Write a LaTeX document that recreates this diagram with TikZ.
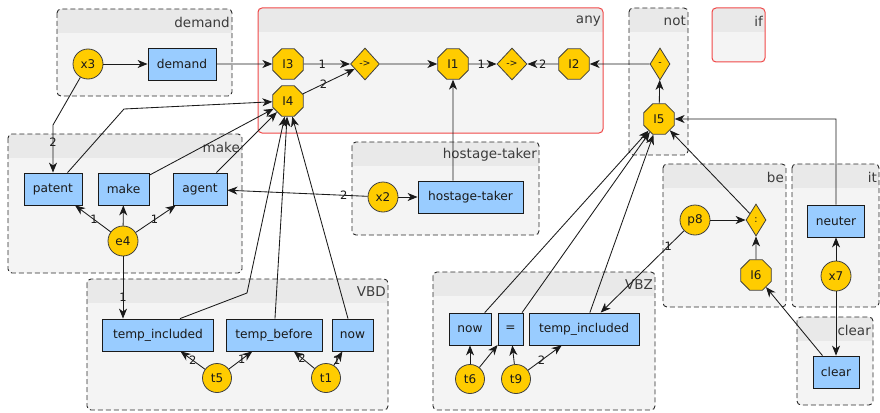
\documentclass[tikz,border=0pt]{standalone}
\usepackage{fontspec}
\setmainfont{DejaVu Sans}
\usetikzlibrary{shapes.geometric,arrows.meta,calc}
\definecolor{gold}{HTML}{FFCC00}
\definecolor{boxblue}{HTML}{99CCFF}
\definecolor{grpbg}{HTML}{F4F4F4}
\definecolor{grphead}{HTML}{E9E9E9}
\definecolor{redb}{HTML}{F04848}
\definecolor{ink}{HTML}{1A1A1A}
\definecolor{dashc}{HTML}{2A2A2A}

\newcommand\mygroup[6]{%
  \fill[grpbg,rounded corners=4pt] (#1,#2) rectangle (#3,#4);
  \begin{scope}
    \clip[rounded corners=4pt] (#1,#2) rectangle (#3,#4);
    \fill[grphead] (#1,#2) rectangle (#3,#2+24);
  \end{scope}
  \draw[#6,rounded corners=4pt] (#1,#2) rectangle (#3,#4);
  \node[grptitle,anchor=east] (g-#5) at (#3-2,#2+13) {#5};
}

\begin{document}
\begin{tikzpicture}[x=1pt,y=-1pt,
  grptitle/.style={font=\fontsize{13.5}{15}\selectfont,text=ink!85,inner sep=0pt},
  dgrp/.style={draw=dashc,line width=0.9pt,dash pattern=on 5pt off 3pt},
  rgrp/.style={draw=redb,line width=1pt},
  blk/.style={rectangle,draw=ink,fill=boxblue,minimum height=32pt,inner sep=0pt,
    font=\fontsize{12.2}{14}\selectfont,text=ink,line width=0.8pt},
  var/.style={circle,draw=black!75,fill=gold,minimum size=30pt,inner sep=0pt,
    font=\fontsize{12}{14}\selectfont,text=ink,line width=0.8pt},
  oct/.style={regular polygon,regular polygon sides=8,draw=black!75,fill=gold,
    minimum size=33pt,inner sep=0pt,font=\fontsize{12}{14}\selectfont,text=ink,line width=0.8pt},
  op/.style={diamond,draw=black!75,fill=gold,inner sep=0pt,minimum height=32pt,
    font=\fontsize{9.5}{10}\selectfont,text=ink,line width=0.8pt},
  edge/.style={draw=ink,line width=0.85pt,-{Stealth[length=10pt,width=8pt,inset=3pt]}},
  lbl/.style={font=\fontsize{11.5}{12}\selectfont,text=ink,inner sep=0pt}
]
\useasboundingbox (0,0) rectangle (880,412);

% groups
\mygroup{57}{9}{232}{96}{demand}{dgrp}
\mygroup{258}{8}{603}{133}{any}{rgrp}
\mygroup{629}{8}{688}{155}{not}{dgrp}
\mygroup{712}{8}{765}{62}{if}{rgrp}
\mygroup{8}{134}{242}{273}{make}{dgrp}
\mygroup{352}{142}{539}{235}{hostage-taker}{dgrp}
\mygroup{663}{164}{786}{307}{be}{dgrp}
\mygroup{792}{164}{879}{307}{it}{dgrp}
\mygroup{797}{317}{873}{405}{clear}{dgrp}
\mygroup{87}{279}{388}{410}{VBD}{dgrp}
\mygroup{433}{272}{655}{410}{VBZ}{dgrp}

% nodes
\node[var] (x3) at (88,64) {x3};
\node[blk,minimum width=68pt] (demand) at (182,64) {demand};
\node[oct] (I3) at (288,64) {I3};
\node[oct] (I4) at (288,101) {I4};
\node[op,minimum width=29pt] (op1) at (365,64) {->};
\node[oct] (I1) at (453,64) {I1};
\node[op,minimum width=30pt] (op2) at (512,64) {->};
\node[oct] (I2) at (574,64) {I2};
\node[op,minimum width=20pt] (opn) at (660,64) {-};
\node[oct] (I5) at (659,119) {I5};

\node[blk,minimum width=58pt] (patent) at (53,189) {patent};
\node[blk,minimum width=51pt] (make) at (123.5,189) {make};
\node[blk,minimum width=54pt] (agent) at (200,189) {agent};
\node[var] (e4) at (123,241) {e4};

\node[var] (x2) at (383,197) {x2};
\node[blk,minimum width=105pt] (ht) at (470.5,197) {hostage-taker};

\node[var] (p8) at (695,220) {p8};
\node[op,minimum width=20pt] (opc) at (756,220) {:};
\node[oct] (I6) at (756,275) {I6};
\node[blk,minimum width=57pt] (neuter) at (836,221) {neuter};
\node[var] (x7) at (836,276) {x7};
\node[blk,minimum width=46pt] (clear) at (836,372) {clear};

\node[blk,minimum width=111pt] (tiA) at (158,335) {temp\_included};
\node[blk,minimum width=96pt] (tb) at (274,335) {temp\_before};
\node[blk,minimum width=41pt] (nowA) at (352.5,335) {now};
\node[var,minimum size=29pt] (t5) at (217,378) {t5};
\node[var,minimum size=29pt] (t1) at (326,378) {t1};

\node[blk,minimum width=42pt] (nowB) at (470,329) {now};
\node[blk,minimum width=25pt] (eq) at (510.5,329) {=};
\node[blk,minimum width=110pt] (tiB) at (584,329) {temp\_included};
\node[var,minimum size=29pt] (t6) at (470,379) {t6};
\node[var,minimum size=29pt] (t9) at (516,379) {t9};

% bend points
\coordinate (b1) at (53,125);
\coordinate (b2) at (124,109);
\coordinate (b3) at (247,293);
\coordinate (b4) at (836,119);

% edges
\draw[edge] (x3) -- (demand);
\draw[edge] (demand) -- (I3);
\draw[edge] (I3) -- node[lbl,pos=0.4]{1} (op1);
\draw[edge] (I4) -- node[lbl,pos=0.4]{2} (op1);
\draw[edge] (op1) -- (I1);
\draw[edge] (I1) -- node[lbl,pos=0.45]{1} (op2);
\draw[edge] (I2) -- node[lbl,pos=0.5]{2} (op2);
\draw[edge] (opn) -- (I2);
\draw[edge] (ht.north -| I1) -- (I1);
\draw[edge] (I5) -- (opn);

\draw[edge] (x3) -- (b1) -- node[lbl,pos=0.37]{2} (patent);
\draw[edge] (patent) -- (b2) -- (I4);
\draw[edge] (make) -- (I4);
\draw[edge] (agent) -- (I4);
\draw[edge] (e4) -- node[lbl,pos=0.47]{1} (patent);
\draw[edge] (e4) -- (make);
\draw[edge] (e4) -- node[lbl,pos=0.47]{1} (agent);
\draw[edge] (e4) -- node[lbl,pos=0.65]{1} (e4 |- tiA.north);
\draw[edge] (x2) -- node[lbl,pos=0.17]{2} (agent);
\draw[edge] (x2) -- (ht);

\draw[edge] ([xshift=22pt]tiA.north) -- (b3) -- (I4);
\draw[edge] (tb) -- (I4);
\draw[edge] (nowA) -- (I4);
\draw[edge] (t5) -- node[lbl,pos=0.5]{2} (tiA);
\draw[edge] (t5) -- node[lbl,pos=0.55]{1} (tb);
\draw[edge] (t1) -- node[lbl,pos=0.6]{2} (tb);
\draw[edge] (t1) -- node[lbl,pos=0.35]{1} (nowA);

\draw[edge] (t6) -- (nowB);
\draw[edge] (t6) -- (eq);
\draw[edge] (t9) -- (eq);
\draw[edge] (t9) -- node[lbl,pos=0.4]{2} (tiB);
\draw[edge] (nowB) -- (I5);
\draw[edge] (eq) -- (I5);
\draw[edge] (tiB) -- (I5);
\draw[edge] (p8) -- node[lbl,pos=0.19]{1} (tiB);
\draw[edge] (p8) -- (opc);
\draw[edge] (I6) -- (opc);
\draw[edge] (opc) -- (I5);
\draw[edge] (neuter) -- (b4) -- (I5);
\draw[edge] (x7) -- (neuter);
\draw[edge] (x7) -- (clear);
\draw[edge] (clear) -- (I6);
\end{tikzpicture}
\end{document}
